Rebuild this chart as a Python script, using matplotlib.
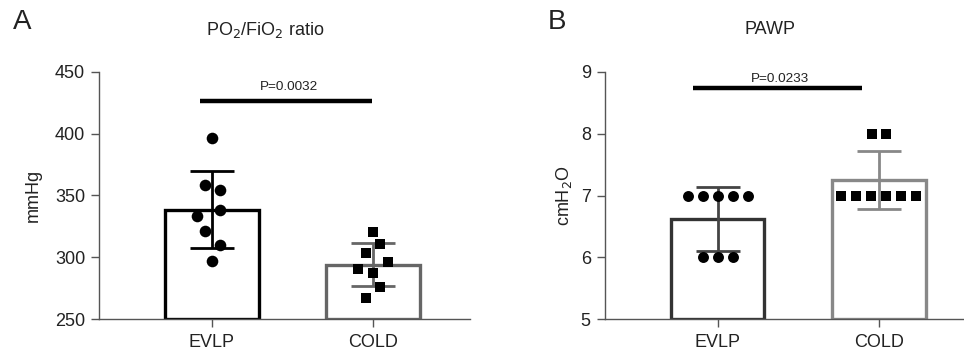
import numpy as np
import matplotlib.pyplot as plt

plt.rcParams['font.family'] = ['Liberation Sans', 'DejaVu Sans']

groups = ['EVLP', 'COLD']

# panel A: PO2/FiO2 ratio (mmHg)
po2_evlp = [396.6, 358.3, 354.5, 338.3, 333.2, 321.0, 310.2, 297.2]
po2_cold = [320.7, 310.5, 303.2, 296.4, 290.8, 287.0, 276.2, 267.0]
po2_evlp_dx = [0, -0.045, 0.048, 0.048, -0.093, -0.045, 0.048, 0]
po2_cold_dx = [0, 0.045, -0.045, 0.093, -0.093, 0, 0.045, -0.045]
po2_p = 'P=0.0032'

# panel B: PAWP (cmH2O)
pawp_evlp = [7, 7, 7, 7, 7, 6, 6, 6]
pawp_cold = [8, 8, 7, 7, 7, 7, 7, 7]
pawp_evlp_dx = [-0.186, -0.093, 0, 0.093, 0.186, -0.093, 0, 0.093]
pawp_cold_dx = [-0.045, 0.045, -0.233, -0.14, -0.047, 0.047, 0.14, 0.233]
pawp_p = 'P=0.0233'

W, H = 964, 352
fig = plt.figure(figsize=(W / 100, H / 100), dpi=100)

FS = 13


def panel(ax, data, dxs, bar_cols, err_cols, markers, ylim, yticks, sig_y, sig_x, p_txt, p_y, msz):
    for i, (vals, dx) in enumerate(zip(data, dxs)):
        vals = np.array(vals, dtype=float)
        m = vals.mean()
        sd = vals.std(ddof=1)
        ax.bar(i, m - ylim[0], bottom=ylim[0], width=0.58, facecolor='white',
               edgecolor=bar_cols[i], linewidth=2.4, zorder=2)
        ax.errorbar(i, m, yerr=sd, color=err_cols[i], capsize=16, capthick=2.0,
                    elinewidth=2.0, zorder=3)
        ax.scatter(i + np.array(dx), vals, marker=markers[i], s=msz[i], color='black',
                   linewidths=0, zorder=4)
    ax.plot(sig_x, [sig_y, sig_y], color='black', lw=3.2, solid_capstyle='butt', clip_on=False)
    ax.text((sig_x[0] + sig_x[1]) / 2 + 0.02, p_y, p_txt, ha='center', va='center',
            fontsize=9.7, color='#222222')
    ax.set_ylim(ylim)
    ax.set_yticks(yticks)
    ax.set_xticks([0, 1])
    ax.set_xticklabels(groups)
    for s in ['top', 'right']:
        ax.spines[s].set_visible(False)
    for s in ['left', 'bottom']:
        ax.spines[s].set_color('#555555')
        ax.spines[s].set_linewidth(1.0)
    ax.tick_params(axis='both', colors='#555555', labelcolor='#222222', labelsize=FS,
                   length=6, width=1.0)
    ax.tick_params(axis='x', pad=5)
    ax.tick_params(axis='y', pad=4)


# panel A
axA = fig.add_axes([99 / W, (H - 319) / H, 371 / W, 247 / H])
panel(axA, [po2_evlp, po2_cold], [po2_evlp_dx, po2_cold_dx],
      ['black', '#666666'], ['black', '#666666'], ['o', 's'],
      (250, 450), [250, 300, 350, 400, 450], 426.5, [-0.075, 0.994], po2_p, 437.5, [70, 62])
axA.set_xlim(-0.70, 1.60)
axA.set_ylabel('mmHg', fontsize=FS, color='#222222')
axA.yaxis.set_label_coords(-0.155, 0.5)

# panel B
axB = fig.add_axes([604.7 / W, (H - 319) / H, (W - 604.7) / W, 247 / H])
panel(axB, [pawp_evlp, pawp_cold], [pawp_evlp_dx, pawp_cold_dx],
      ['#333333', '#888888'], ['#444444', '#888888'], ['o', 's'],
      (5, 9), [5, 6, 7, 8, 9], 8.736, [-0.155, 0.894], pawp_p, 8.88, [62, 62])
axB.set_xlim(-0.70, 1.528)
axB.set_ylabel('cmH$_2$O', fontsize=FS, color='#222222')
axB.yaxis.set_label_coords(-0.085, 0.5)

fig.text(265 / W, 1 - 30 / H, 'PO$_2$/FiO$_2$ ratio', ha='center', va='center',
         fontsize=FS, color='#222222')
fig.text(770 / W, 1 - 29 / H, 'PAWP', ha='center', va='center', fontsize=FS, color='#222222')
fig.text(13 / W, 1 - 22 / H, 'A', ha='left', va='center', fontsize=20, color='#222222')
fig.text(548 / W, 1 - 22 / H, 'B', ha='left', va='center', fontsize=20, color='#222222')

fig.savefig('out.png', dpi=100)
